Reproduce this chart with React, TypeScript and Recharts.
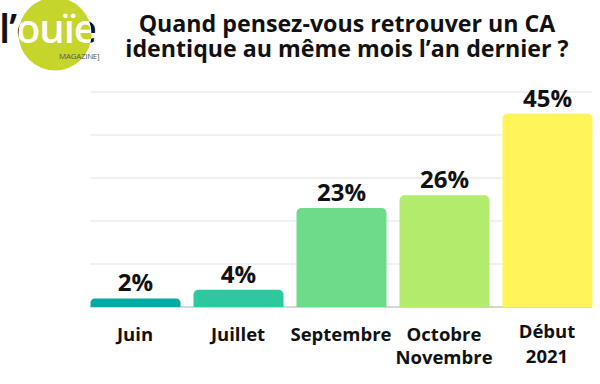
import React from "react";
import { BarChart, Bar, XAxis, YAxis, CartesianGrid, Cell, LabelList } from "recharts";

const categories = ["Juin", "Juillet", "Septembre", "Octobre\nNovembre", "Début\n2021"];
const values = [2, 4, 23, 26, 45];
const colors = ["#03a9a4", "#2ec89e", "#6ddb87", "#b3ec6c", "#fff55a"];
const yTicks = [0, 10, 20, 30, 40, 50];
const title = ["Quand pensez-vous retrouver un CA", "identique au même mois l’an dernier ?"];

const data = categories.map((c, i) => ({ name: c, value: values[i] }));

const FONT = "'Open Sans', sans-serif";

const Tick = (props: any) => {
  const { x, y, payload, index } = props;
  const lines = String(payload.value).split("\n");
  const last = index === categories.length - 1;
  return (
    <text x={x} y={y} textAnchor="middle" fontFamily={FONT} fontWeight={700} fontSize={18.5} fill="#111">
      {lines.map((l, i) => (
        <tspan key={i} x={x} dy={i === 0 ? (last ? 31 : 34) : last ? 25 : 23}>
          {l}
        </tspan>
      ))}
    </text>
  );
};

const GridLine = (props: any) => {
  const { x1, x2, y1, y2, index } = props;
  const inset = 6.5;
  const isBase = Math.abs(y1 - 307) < 2;
  return (
    <line
      key={`g-${index}-${y1}`}
      x1={x1 + inset}
      x2={x2 - inset}
      y1={y1}
      y2={y2}
      stroke={isBase ? "#c8c8c8" : "#e3e3e3"}
      strokeWidth={isBase ? 1.5 : 1}
    />
  );
};

const Logo = () => (
  <svg width={130} height={80} style={{ position: "absolute", left: 0, top: 0 }}>
    <defs>
      <pattern id="logoFill" patternUnits="userSpaceOnUse" x={0} y={0} width={130} height={80}>
        <rect x={0} y={0} width={130} height={80} fill="#111" />
        <circle cx={55} cy={34} r={36.5} fill="#fff" />
      </pattern>
    </defs>
    <circle cx={55} cy={34} r={36.5} fill="#c6d52c" />
    <text x={-1} y={43} fontFamily={FONT} fontWeight={600} fontSize={40} letterSpacing={-1} fill="url(#logoFill)">
      l’ouïe
    </text>
    <text x={59} y={59} fontFamily={FONT} fontSize={8} fill="#555" letterSpacing={-0.3}>
      MAGAZINE]
    </text>
  </svg>
);

export default function App() {
  return (
    <div style={{ position: "absolute", left: 0, top: 0, width: 600, height: 384, background: "#fff", overflow: "hidden" }}>
      <Logo />
      <div
        style={{
          position: "absolute",
          left: 92,
          width: 510,
          top: 11,
          textAlign: "center",
          fontFamily: FONT,
          fontWeight: 700,
          fontSize: 23.2,
          lineHeight: "25px",
          color: "#111",
        }}
      >
        <div>{title[0]}</div>
        <div>{title[1]}</div>
      </div>
      <div style={{ position: "absolute", left: 0, top: 0 }}>
        <BarChart
          width={600}
          height={384}
          data={data}
          margin={{ top: 92, right: 1.5, bottom: 47, left: 83.5 }}
          barCategoryGap={13}
        >
          <CartesianGrid vertical={false} horizontal={(p: any) => <GridLine {...p} />} />
          <YAxis hide domain={[0, 50]} ticks={yTicks} width={0} />
          <XAxis
            dataKey="name"
            axisLine={false}
            tickLine={false}
            tickSize={0}
            tickMargin={0}
            interval={0}
            tick={<Tick />}
          />
          <Bar dataKey="value" barSize={90} radius={[5, 5, 0, 0]} isAnimationActive={false}>
            {data.map((d, i) => (
              <Cell key={d.name} fill={colors[i]} />
            ))}
            <LabelList
              dataKey="value"
              position="top"
              offset={7}
              formatter={(v: any) => `${v}%`}
              style={{ fontFamily: FONT, fontWeight: 700, fontSize: 24, fill: "#111" }}
            />
          </Bar>
        </BarChart>
      </div>
    </div>
  );
}
